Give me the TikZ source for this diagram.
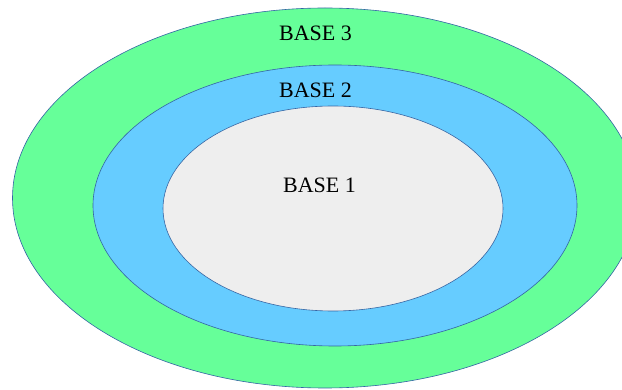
\documentclass[tikz,border=0pt]{standalone}
\usepackage{fontspec}
\setmainfont{Liberation Serif}
\usetikzlibrary{shapes.geometric}
\definecolor{ringgreen}{RGB}{102,255,153}
\definecolor{ringblue}{RGB}{102,204,255}
\definecolor{ringgray}{RGB}{238,238,238}
\definecolor{ringline}{RGB}{52,101,164}
\tikzset{
  ring/.style={ellipse, draw=ringline, line width=0.6pt, inner sep=0pt},
  lbl/.style={anchor=base, font=\fontsize{22}{26}\selectfont, text=black, inner sep=0pt}
}
\begin{document}
\begin{tikzpicture}[x=1pt,y=-1pt]
\useasboundingbox (0,0) rectangle (622,390);
\clip (0,0) rectangle (622,390);
\fill[white] (0,0) rectangle (622,390);
\node[ring, fill=ringgreen, minimum width=625pt, minimum height=380pt] (b3) at (325,198) {};
\node[ring, fill=ringblue, minimum width=484pt, minimum height=281pt] (b2) at (335,205.5) {};
\node[ring, fill=ringgray, minimum width=340pt, minimum height=205pt] (b1) at (333,208.5) {};
\node[lbl] (t3) at (315.5,40.7) {BASE 3};
\node[lbl] (t2) at (315.5,98) {BASE 2};
\node[lbl] (t1) at (319.5,192.7) {BASE 1};
\end{tikzpicture}
\end{document}
